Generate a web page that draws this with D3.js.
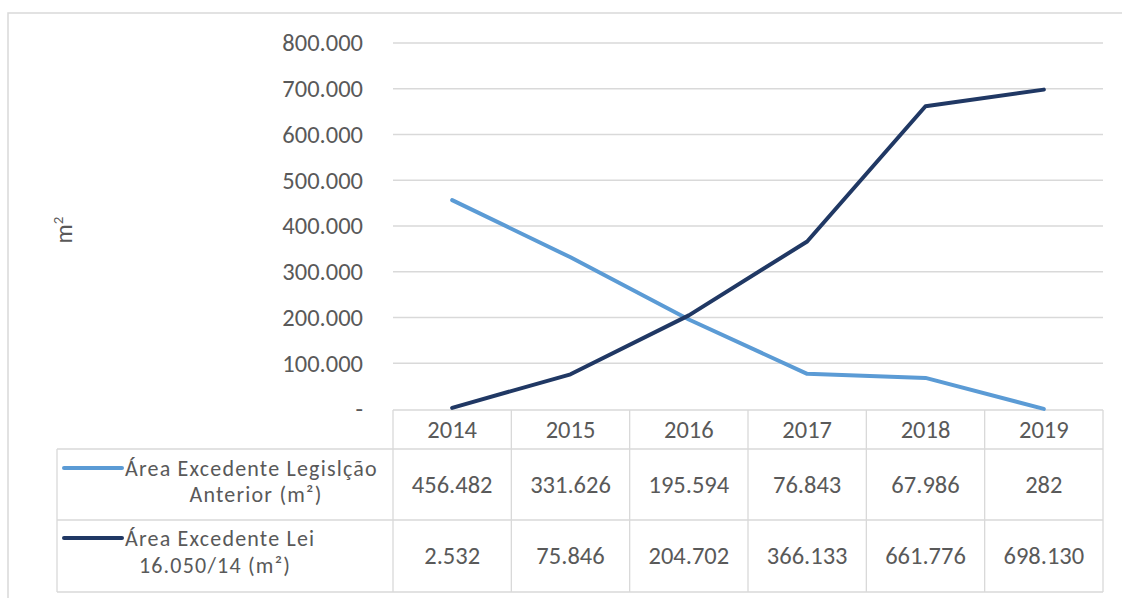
<!DOCTYPE html>
<html><head><meta charset="utf-8">
<script src="https://cdn.jsdelivr.net/npm/d3@7"></script>
<style>
body{margin:0;background:#fff;}
text{font-family:Carlito,Lato,"Liberation Sans",sans-serif;fill:#595959;}
</style></head>
<body><svg id="c" width="1122" height="598"></svg>
<script>
const years = ["2014","2015","2016","2017","2018","2019"];
const anterior = [456482, 331626, 195594, 76843, 67986, 282];
const lei = [2532, 75846, 204702, 366133, 661776, 698130];
const yTicks = [0,100000,200000,300000,400000,500000,600000,700000,800000];
const seriesNames = [["Área Excedente Legislção","Anterior (m²)"],["Área Excedente Lei","16.050/14 (m²)"]];
const colors = ["#5b9bd5","#203864"];

const FS = "24.5px";
const svg = d3.select("#c");
const loc = d3.formatLocale({decimal:",",thousands:".",grouping:[3],currency:["",""]});
const fmt = loc.format(",");

svg.append("rect").attr("x",8).attr("y",13).attr("width",1125).attr("height",600)
  .attr("fill","#fff").attr("stroke","#d9d9d9").attr("stroke-width",1.5);

const x = d3.scaleBand().domain(years).range([393,1103]);
const y = d3.scaleLinear().domain([0,800000]).range([409,43]);

// gridlines
svg.append("g").selectAll("line").data(yTicks.filter(d=>d>0)).join("line")
  .attr("x1",393).attr("x2",1103).attr("y1",d=>y(d)).attr("y2",d=>y(d))
  .attr("stroke","#d9d9d9").attr("stroke-width",1.3);

// y axis
const ya = svg.append("g").attr("transform","translate(393,0)")
  .call(d3.axisLeft(y).tickValues(yTicks).tickSize(0).tickPadding(30)
    .tickFormat(d=>d===0?"-":fmt(d)));
ya.select(".domain").remove();
ya.selectAll("text").style("font-size",FS).attr("fill","#595959").style("font-family","Carlito,Lato,sans-serif");

// y title
svg.append("text").attr("transform","translate(72,230) rotate(-90)")
  .attr("text-anchor","middle").style("font-size","24px")
  .html('m<tspan dy="-9" font-size="15">2</tspan>');

// table
const tg = svg.append("g").attr("stroke","#d9d9d9").attr("stroke-width",1.3);
tg.append("line").attr("x1",393).attr("x2",1103).attr("y1",410).attr("y2",410);
[449,520,592].forEach(v=>tg.append("line").attr("x1",57).attr("x2",1103).attr("y1",v).attr("y2",v));
x.domain().forEach(d=>tg.append("line").attr("x1",x(d)).attr("x2",x(d)).attr("y1",410).attr("y2",592));
tg.append("line").attr("x1",1103).attr("x2",1103).attr("y1",410).attr("y2",592);
tg.append("line").attr("x1",57).attr("x2",57).attr("y1",449).attr("y2",592);

// header
svg.append("g").selectAll("text").data(years).join("text")
  .attr("x",d=>x(d)+x.bandwidth()/2).attr("y",438).attr("text-anchor","middle")
  .style("font-size",FS).text(d=>d);
[anterior,lei].forEach((arr,i)=>{
  svg.append("g").selectAll("text").data(arr).join("text")
    .attr("x",(d,j)=>x(years[j])+x.bandwidth()/2).attr("y",i===0?493:564)
    .attr("text-anchor","middle").style("font-size",FS).text(d=>fmt(d));
});

// legend in table
const legPos=[{ly:468,t1:[125,476],t2:[256,502]},{ly:538,t1:[125,546],t2:[215,573]}];
seriesNames.forEach((n,i)=>{
  const p=legPos[i];
  svg.append("line").attr("x1",64).attr("x2",122).attr("y1",p.ly).attr("y2",p.ly)
    .attr("stroke",colors[i]).attr("stroke-width",4).attr("stroke-linecap","round");
  svg.append("text").attr("x",p.t1[0]).attr("y",p.t1[1]).style("font-size","22px")
    .style("letter-spacing","1.2px").text(n[0]);
  svg.append("text").attr("x",p.t2[0]).attr("y",p.t2[1]).attr("text-anchor","middle")
    .style("font-size","22px").style("letter-spacing","1.2px").text(n[1]);
});

// lines
const line = d3.line().x((d,i)=>x(years[i])+x.bandwidth()/2).y(d=>y(d));
[anterior,lei].forEach((arr,i)=>{
  svg.append("path").datum(arr).attr("d",line).attr("fill","none")
    .attr("stroke",colors[i]).attr("stroke-width",4).attr("stroke-linecap","round").attr("stroke-linejoin","round");
});
</script></body></html>
